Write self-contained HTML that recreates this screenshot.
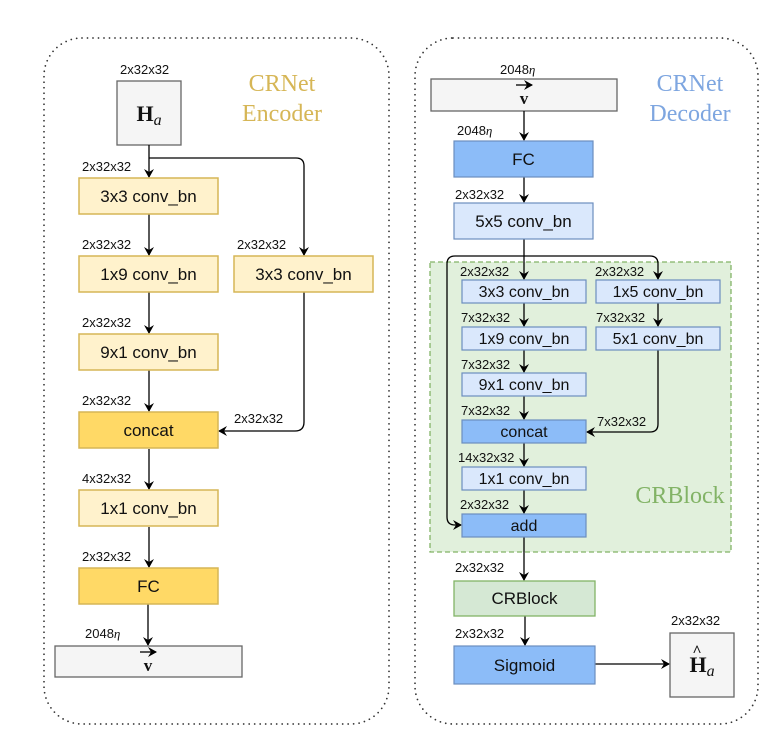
<!DOCTYPE html>
<html><head><meta charset="utf-8"><style>
html,body{margin:0;padding:0;background:#fff;}
svg{display:block;}
.l{font-family:"Liberation Sans",sans-serif;font-size:13px;fill:#111;}
.b{font-family:"Liberation Sans",sans-serif;font-size:17px;fill:#111;text-anchor:middle;}
.s{font-family:"Liberation Sans",sans-serif;font-size:16px;fill:#111;text-anchor:middle;}
.t{font-family:"Liberation Serif",serif;font-size:24px;text-anchor:middle;}
.m{font-family:"Liberation Serif",serif;font-weight:bold;text-anchor:middle;fill:#111;}
</style></head><body>
<svg width="768" height="740" viewBox="0 0 768 740" xmlns="http://www.w3.org/2000/svg">
<defs><marker id="a" markerWidth="10" markerHeight="10" refX="8" refY="5" orient="auto" markerUnits="userSpaceOnUse"><path d="M0,0 L9,5 L0,10 L3,5 Z" fill="#000"/></marker></defs>
<g fill="none" stroke="#333" stroke-width="1.8" stroke-dasharray="0 5.5" stroke-linecap="round">
<rect x="44" y="38" width="345" height="686" rx="38"/>
<rect x="415" y="38" width="343" height="686" rx="38"/>
</g>
<!-- Encoder -->
<text class="t" x="282" y="91" fill="#d6b656">CRNet</text>
<text class="t" x="282" y="121" fill="#d6b656">Encoder</text>
<text class="l" x="120" y="74">2x32x32</text>
<rect x="117" y="81" width="64" height="64" fill="#f5f5f5" stroke="#666" stroke-width="1.3"/>
<text class="m" x="149" y="121" font-size="22">H<tspan font-style="italic" font-weight="normal" font-size="16" dy="4">a</tspan></text>
<g stroke="#000" stroke-width="1.3" fill="none">
<line x1="149" y1="145" x2="149" y2="177" marker-end="url(#a)"/>
<path d="M149,158 H296 Q304,158 304,166 V255" marker-end="url(#a)"/>
<line x1="149" y1="214" x2="149" y2="255" marker-end="url(#a)"/>
<line x1="149" y1="292" x2="149" y2="333" marker-end="url(#a)"/>
<line x1="149" y1="370" x2="149" y2="411" marker-end="url(#a)"/>
<path d="M304,292 V422 Q304,431 295,431 H219" marker-end="url(#a)"/>
<line x1="149" y1="449" x2="149" y2="489" marker-end="url(#a)"/>
<line x1="149" y1="527" x2="149" y2="567" marker-end="url(#a)"/>
<line x1="148" y1="604" x2="148" y2="645" marker-end="url(#a)"/>
</g>
<g stroke="#d6b656" stroke-width="1.5">
<rect x="79" y="178" width="139" height="36" fill="#fff2cc"/>
<rect x="79" y="256" width="139" height="36" fill="#fff2cc"/>
<rect x="234" y="256" width="139" height="36" fill="#fff2cc"/>
<rect x="79" y="334" width="139" height="36" fill="#fff2cc"/>
<rect x="79" y="412" width="139" height="36" fill="#ffd966"/>
<rect x="79" y="490" width="139" height="36" fill="#fff2cc"/>
<rect x="79" y="568" width="139" height="36" fill="#ffd966"/>
</g>
<text class="b" x="148.5" y="202">3x3 conv_bn</text>
<text class="b" x="148.5" y="280">1x9 conv_bn</text>
<text class="b" x="303.5" y="280">3x3 conv_bn</text>
<text class="b" x="148.5" y="358">9x1 conv_bn</text>
<text class="b" x="148.5" y="436">concat</text>
<text class="b" x="148.5" y="514">1x1 conv_bn</text>
<text class="b" x="148.5" y="592">FC</text>
<text class="l" x="82" y="171">2x32x32</text>
<text class="l" x="82" y="249">2x32x32</text>
<text class="l" x="237" y="249">2x32x32</text>
<text class="l" x="82" y="327">2x32x32</text>
<text class="l" x="82" y="405">2x32x32</text>
<text class="l" x="234" y="423">2x32x32</text>
<text class="l" x="82" y="483">4x32x32</text>
<text class="l" x="82" y="561">2x32x32</text>
<text class="l" x="85" y="638">2048<tspan font-family="Liberation Serif" font-style="italic">η</tspan></text>
<rect x="55" y="646" width="187" height="31" fill="#f5f5f5" stroke="#666" stroke-width="1.3"/>
<text class="m" x="148" y="671" font-size="17">v</text>
<line x1="140" y1="652" x2="156" y2="652" stroke="#000" stroke-width="1.3" marker-end="url(#a)"/>
<!-- Decoder -->
<text class="t" x="690" y="91" fill="#7ea6e0">CRNet</text>
<text class="t" x="690" y="121" fill="#7ea6e0">Decoder</text>
<text class="l" x="500" y="74">2048<tspan font-family="Liberation Serif" font-style="italic">η</tspan></text>
<rect x="431" y="79" width="186" height="32" fill="#f5f5f5" stroke="#666" stroke-width="1.3"/>
<text class="m" x="524" y="104" font-size="17">v</text>
<line x1="516" y1="85" x2="532" y2="85" stroke="#000" stroke-width="1.3" marker-end="url(#a)"/>
<rect x="430" y="262" width="301" height="290" fill="#e1f0dc" stroke="#82b366" stroke-width="1.3" stroke-dasharray="5 3"/>
<text class="t" x="680" y="503" fill="#82b366">CRBlock</text>
<g stroke="#000" stroke-width="1.3" fill="none">
<line x1="524" y1="111" x2="524" y2="140" marker-end="url(#a)"/>
<line x1="524" y1="177" x2="524" y2="202" marker-end="url(#a)"/>
<line x1="524" y1="239" x2="524" y2="279" marker-end="url(#a)"/>
<path d="M524,256 H455 Q447,256 447,264 V517 Q447,525 455,525 H461" marker-end="url(#a)"/>
<path d="M524,256 H650 Q658,256 658,264 V279" marker-end="url(#a)"/>
<line x1="524" y1="303" x2="524" y2="326" marker-end="url(#a)"/>
<line x1="658" y1="303" x2="658" y2="326" marker-end="url(#a)"/>
<line x1="524" y1="350" x2="524" y2="372" marker-end="url(#a)"/>
<line x1="524" y1="396" x2="524" y2="419" marker-end="url(#a)"/>
<path d="M658,350 V424 Q658,432 650,432 H587" marker-end="url(#a)"/>
<line x1="524" y1="443" x2="524" y2="466" marker-end="url(#a)"/>
<line x1="524" y1="490" x2="524" y2="513" marker-end="url(#a)"/>
<line x1="524" y1="537" x2="524" y2="580" marker-end="url(#a)"/>
<line x1="525" y1="616" x2="525" y2="645" marker-end="url(#a)"/>
<line x1="595" y1="664" x2="669" y2="664" marker-end="url(#a)"/>
</g>
<g stroke="#6c8ebf" stroke-width="1.2">
<rect x="454" y="141" width="139" height="36" fill="#8cbcf8"/>
<rect x="454" y="203" width="139" height="36" fill="#dae8fc"/>
<rect x="462" y="280" width="124" height="23" fill="#dae8fc"/>
<rect x="596" y="280" width="124" height="23" fill="#dae8fc"/>
<rect x="462" y="327" width="124" height="23" fill="#dae8fc"/>
<rect x="596" y="327" width="124" height="23" fill="#dae8fc"/>
<rect x="462" y="373" width="124" height="23" fill="#dae8fc"/>
<rect x="462" y="420" width="124" height="23" fill="#8cbcf8"/>
<rect x="462" y="467" width="124" height="23" fill="#dae8fc"/>
<rect x="462" y="514" width="124" height="23" fill="#8cbcf8"/>
<rect x="454" y="646" width="141" height="38" fill="#8cbcf8"/>
</g>
<rect x="454" y="581" width="141" height="35" fill="#d5e8d4" stroke="#82b366" stroke-width="1.3"/>
<rect x="670" y="633" width="64" height="64" fill="#f5f5f5" stroke="#666" stroke-width="1.3"/>
<text class="m" x="702" y="672" font-size="22">H<tspan font-style="italic" font-weight="normal" font-size="16" dy="4">a</tspan></text>
<text class="m" x="697" y="656" font-size="16">^</text>
<text class="b" x="523.5" y="165">FC</text>
<text class="b" x="523.5" y="227">5x5 conv_bn</text>
<text class="s" x="524" y="297">3x3 conv_bn</text>
<text class="s" x="658" y="297">1x5 conv_bn</text>
<text class="s" x="524" y="344">1x9 conv_bn</text>
<text class="s" x="658" y="344">5x1 conv_bn</text>
<text class="s" x="524" y="390">9x1 conv_bn</text>
<text class="s" x="524" y="437">concat</text>
<text class="s" x="524" y="484">1x1 conv_bn</text>
<text class="s" x="524" y="531">add</text>
<text class="b" x="524.5" y="604">CRBlock</text>
<text class="b" x="524.5" y="671">Sigmoid</text>
<text class="l" x="457" y="135">2048<tspan font-family="Liberation Serif" font-style="italic">η</tspan></text>
<text class="l" x="455" y="199">2x32x32</text>
<text class="l" x="460" y="276" font-size="12">2x32x32</text>
<text class="l" x="595" y="276" font-size="12">2x32x32</text>
<text class="l" x="461" y="322" font-size="12">7x32x32</text>
<text class="l" x="596" y="322" font-size="12">7x32x32</text>
<text class="l" x="461" y="369" font-size="12">7x32x32</text>
<text class="l" x="461" y="415" font-size="12">7x32x32</text>
<text class="l" x="597" y="426" font-size="12">7x32x32</text>
<text class="l" x="458" y="462" font-size="12">14x32x32</text>
<text class="l" x="460" y="509" font-size="12">2x32x32</text>
<text class="l" x="455" y="572">2x32x32</text>
<text class="l" x="455" y="638">2x32x32</text>
<text class="l" x="671" y="625">2x32x32</text>
</svg>
</body></html>
